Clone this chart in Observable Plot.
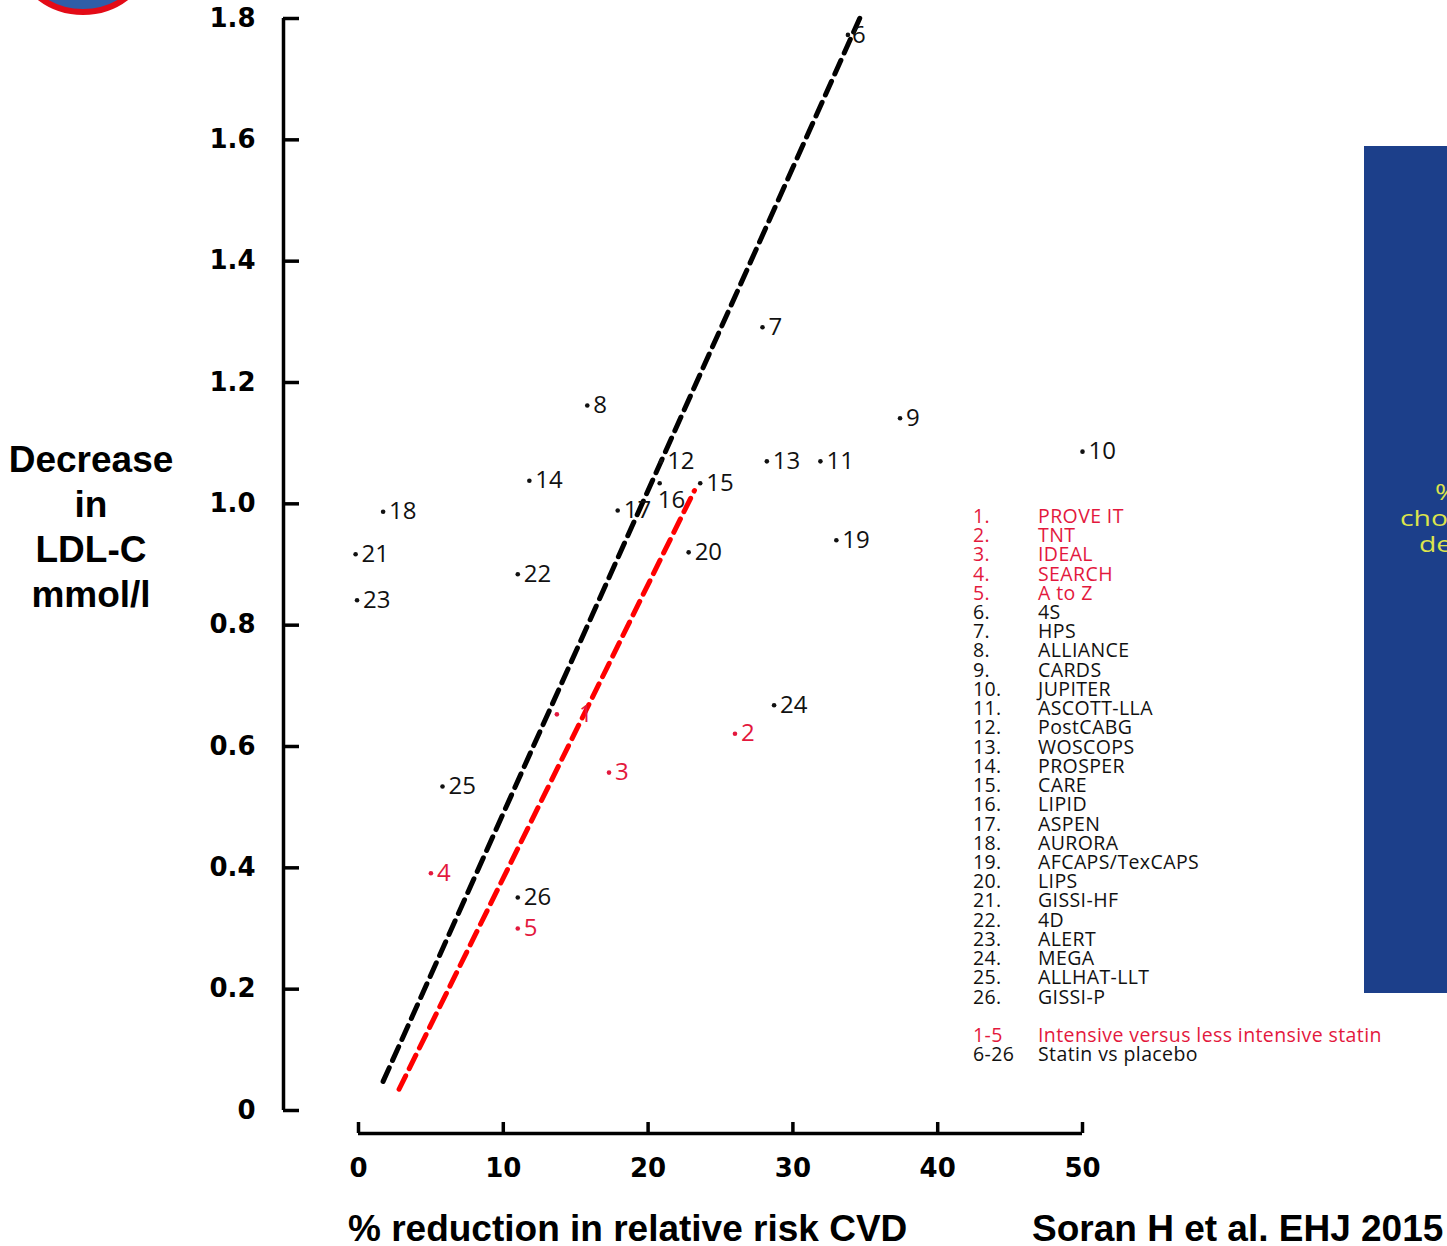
<!DOCTYPE html>
<html><head><meta charset="utf-8">
<script src="https://cdn.jsdelivr.net/npm/d3@7"></script>
<script src="https://cdn.jsdelivr.net/npm/@observablehq/plot@0.6"></script>
<style>
html,body{margin:0;padding:0;background:#fff;}
#wrap{position:relative;width:1447px;height:1246px;overflow:hidden;background:#fff;}
#wrap svg{position:absolute;left:0;top:0;}
.abs{position:absolute;}
#logo{left:8px;top:-135px;width:150px;height:150px;border-radius:50%;background:#2f5ea8;border:6px solid #e30b17;box-sizing:border-box;}
#panel{left:1364px;top:146px;width:120px;height:847px;background:#1c3f8a;}
.ptxt{position:absolute;font-family:"Open Sans",sans-serif;font-size:21px;line-height:26px;color:#dde44c;transform:scaleX(1.35);transform-origin:0 50%;white-space:nowrap;}
#ytitle{left:0;top:437px;width:182px;text-align:center;font-family:"Liberation Sans",Arial,sans-serif;font-weight:bold;font-size:37px;line-height:45px;color:#000;}
#xtitle{left:348px;top:1212px;font-family:"Liberation Sans",Arial,sans-serif;font-weight:bold;font-size:37px;line-height:34px;color:#000;white-space:nowrap;}
#source{left:1032px;top:1212px;font-family:"Liberation Sans",Arial,sans-serif;font-weight:bold;font-size:37px;line-height:34px;color:#000;white-space:nowrap;}
.legend{font-family:"Open Sans",sans-serif;font-size:19.5px;line-height:19.24px;letter-spacing:0.4px;white-space:nowrap;}
.legend .row{display:flex;height:19.24px;}
.legend .num{width:65px;}
</style></head>
<body><div id="wrap"></div>
<script>
// ---- data ----
const trialIds = [1,2,3,4,5,6,7,8,9,10,11,12,13,14,15,16,17,18,19,20,21,22,23,24,25,26];
const trialNames = ["PROVE IT","TNT","IDEAL","SEARCH","A to Z","4S","HPS","ALLIANCE","CARDS","JUPITER",
  "ASCOTT-LLA","PostCABG","WOSCOPS","PROSPER","CARE","LIPID","ASPEN","AURORA","AFCAPS/TexCAPS","LIPS",
  "GISSI-HF","4D","ALERT","MEGA","ALLHAT-LLT","GISSI-P"];
// % reduction in relative risk CVD
const riskReduction = [13.7,26.0,17.3,5.0,11.0,33.8,27.9,15.8,37.4,50.0,
  31.9,20.9,28.2,11.8,23.6,20.8,17.9,1.7,33.0,22.8,
  -0.2,11.0,-0.1,28.7,5.8,11.0];
// Decrease in LDL-C mmol/l
const ldlDecrease = [0.653,0.621,0.557,0.391,0.300,1.773,1.291,1.162,1.141,1.086,
  1.070,1.070,1.070,1.038,1.034,1.034,0.989,0.987,0.940,0.920,
  0.917,0.884,0.841,0.668,0.534,0.351];
const groupNames = ["Intensive versus less intensive statin","Statin vs placebo"];
const groupRanges = ["1-5","6-26"];
const xTicks = [0,10,20,30,40,50];
const yTicks = [0,0.2,0.4,0.6,0.8,1.0,1.2,1.4,1.6,1.8];
// dashed fit lines
const placeboFitX = [1.7, 34.8];
const placeboFitY = [0.048, 1.81];
const intensiveFitX = [2.8, 23.2];
const intensiveFitY = [0.035, 1.022];
// visible fragments of the (cropped) side panel text
const panelLines = ["%","cho","de"];

// ---- build tables ----
const RED = "#e3183d";
const points = trialIds.map((id,i)=>({id, name:trialNames[i], x:riskReduction[i], y:ldlDecrease[i], group: id<=5 ? 0 : 1}));
const placeboFit = placeboFitX.map((x,i)=>({x, y:placeboFitY[i]}));
const intensiveFit = intensiveFitX.map((x,i)=>({x, y:intensiveFitY[i]}));
const colorOf = d => d.group===0 ? RED : "#111";
const nudged = {1:{dx:22,dy:0}, 6:{dx:4,dy:0}, 16:{dx:-2,dy:17}};
const labelFont = {fontFamily:"Open Sans, sans-serif", fontSize:24, textAnchor:"start"};
const tickFont = {fontFamily:"DejaVu Sans, sans-serif", fontWeight:"bold", fontSize:26, fill:"#000"};

const marks = [
  // axes
  Plot.ruleX([0], {y1:0, y2:1.8, dx:-75, strokeWidth:3.5, stroke:"#000"}),
  Plot.axisY(yTicks, {anchor:"left", tickSize:-16, tickPadding:44, strokeWidth:3.5, stroke:"#000",
    tickFormat:d=>d===0?"0":d.toFixed(1), label:null, ...tickFont}),
  Plot.ruleY([0], {x1:0, x2:50, dy:23, strokeWidth:3.5, stroke:"#000"}),
  Plot.axisX(xTicks, {anchor:"bottom", tickSize:11, tickPadding:25, strokeWidth:3.5, stroke:"#000", label:null, ...tickFont}),
  // fit lines
  Plot.line(placeboFit, {x:"x", y:"y", stroke:"#000", strokeWidth:5, strokeDasharray:"15,8"}),
  Plot.line(intensiveFit, {x:"x", y:"y", stroke:"#ff0000", strokeWidth:5, strokeDasharray:"15,8"}),
  // points
  Plot.dot(points, {x:"x", y:"y", r:2.3, fill:colorOf, stroke:null}),
  Plot.text(points.filter(d=>!nudged[d.id]), {x:"x", y:"y", text:d=>String(d.id), fill:colorOf, dx:6, ...labelFont}),
  ...Object.entries(nudged).map(([id,o]) =>
    Plot.text(points.filter(d=>d.id===+id), {x:"x", y:"y", text:d=>String(d.id), fill:colorOf, dx:o.dx, dy:o.dy, ...labelFont}))
];

const chart = Plot.plot({
  width:1447, height:1246,
  marginLeft:283, marginTop:0, marginRight:0, marginBottom:124,
  x:{domain:[0,50], range:[358,1082]},
  y:{domain:[0,1.8], range:[1110,18]},
  style:{background:"transparent", overflow:"visible"},
  marks
});

const wrap = document.getElementById("wrap");
function add(id, cls, html){ const d=document.createElement("div"); if(id) d.id=id; d.className="abs "+(cls||""); d.innerHTML=html; wrap.appendChild(d); return d; }
add("panel","","");
const panelStarts = [1435, 1400, 1419];
panelLines.forEach((t,i)=>{ const s=add(null,"ptxt",t); s.style.left=panelStarts[i]+"px"; s.style.top=(479+26*i)+"px"; });
wrap.appendChild(chart);
add("logo","","");
add("ytitle","","Decrease<br>in<br>LDL-C<br>mmol/l");
add("xtitle","","% reduction in relative risk CVD");
add("source","","Soran H et al. EHJ 2015");

// legend (trial key)
const leg = add("legend","legend","");
leg.style.left="973px"; leg.style.top="505.8px";
points.forEach(p=>{
  const r=document.createElement("div"); r.className="row"; r.style.color = p.group===0?RED:"#111";
  r.innerHTML = `<span class="num">${p.id}.</span><span>${p.name}</span>`; leg.appendChild(r);
});
const leg2 = add("legend2","legend","");
leg2.style.left="973px"; leg2.style.top="1024.8px";
groupNames.forEach((g,i)=>{
  const r=document.createElement("div"); r.className="row"; r.style.color = i===0?RED:"#111";
  r.innerHTML = `<span class="num">${groupRanges[i]}</span><span>${g}</span>`; leg2.appendChild(r);
});
</script>
</body></html>
